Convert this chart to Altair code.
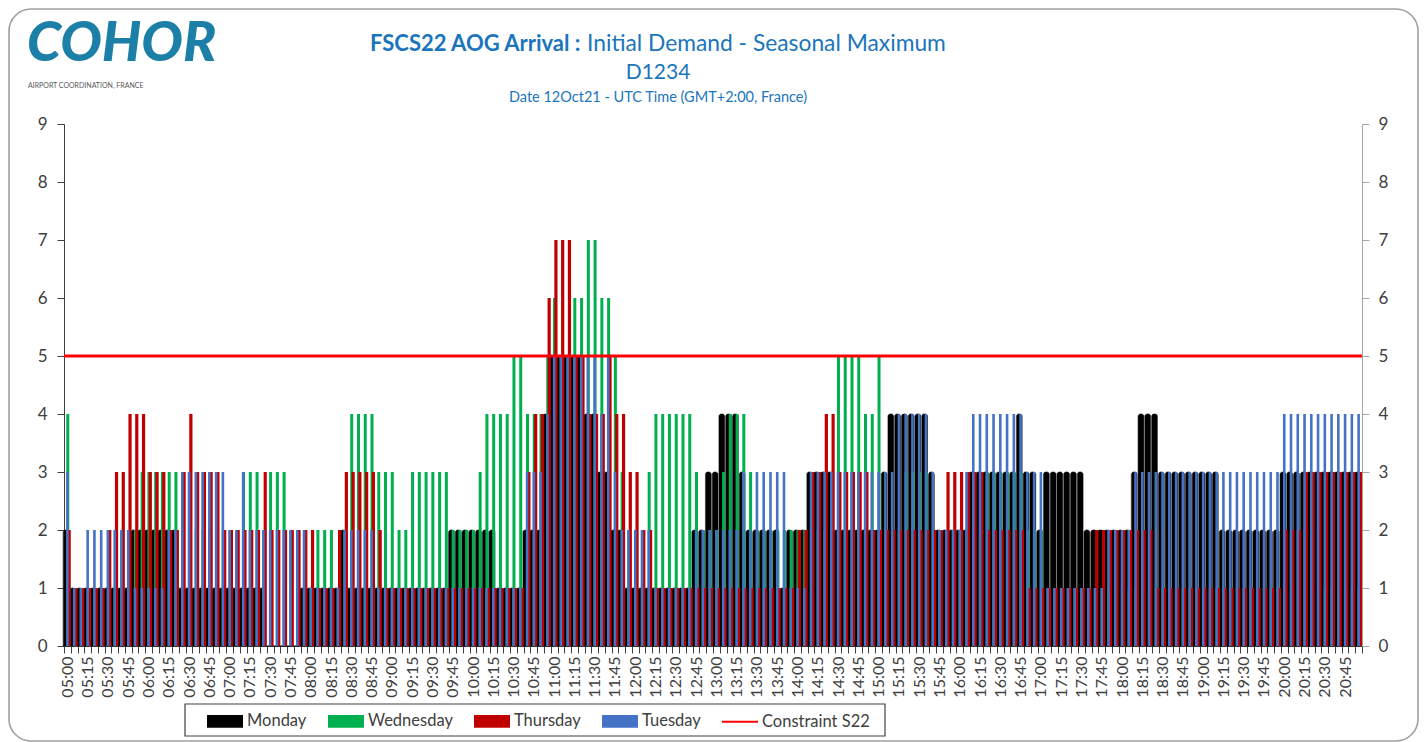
import altair as alt
import pandas as pd

hours = list(range(5, 21))
slots = [f"{h:02d}:{m:02d}" for h in hours for m in range(0, 60, 5)]

monday = [2,1,1,1,1,1,1,1,1,1,2,2, 2,2,2,2,2,1,1,1,1,1,1,1, 1,1,1,1,1,1,0,0,0,0,0,1,
          1,1,1,1,1,2,1,1,1,1,1,1, 1,1,1,1,1,1,1,1,1,2,2,2, 2,2,2,2,1,1,1,1,2,2,2,4,
          5,5,5,5,5,4,4,3,3,2,2,1, 1,1,1,1,1,1,1,1,1,2,2,3, 3,4,4,4,3,2,2,2,2,2,1,2,
          2,2,3,3,3,3,2,2,2,2,2,2, 2,3,4,4,4,4,4,4,3,2,2,2, 2,2,3,3,3,3,3,3,3,4,3,3,
          2,3,3,3,3,3,3,2,2,2,2,2, 2,2,3,4,4,4,3,3,3,3,3,3, 3,3,3,2,2,2,2,2,2,2,2,2,
          3,3,3,3,3,3,3,3,3,3,3,3]
wednesday = [4,1,1,1,1,1,2,1,2,2,2,3, 3,3,3,3,3,3,2,2,2,2,2,2, 2,2,3,3,3,2,3,3,3,2,1,1,
             1,2,2,2,1,2,4,4,4,4,3,3, 3,2,2,3,3,3,3,3,3,2,2,2, 2,3,4,4,4,4,5,5,4,4,4,5,
             6,5,5,6,6,7,7,6,6,5,3,2, 2,2,3,4,4,4,4,4,4,3,2,2, 2,3,4,4,4,3,2,2,2,2,2,2,
             2,2,2,2,2,2,5,5,5,5,4,4, 5,2,2,2,3,3,3,3,2,2,2,2, 2,2,2,2,3,3,3,3,3,3,2,2,
             2,1,1,1,1,1,1,1,1,1,1,1, 1,1,1,1,1,1,1,1,1,1,1,1, 1,1,1,1,1,1,1,1,1,1,1,1,
             2,2,2,2,2,2,1,1,1,1,1,1]
thursday = [2,1,1,1,1,1,2,3,3,4,4,4, 3,3,3,2,2,3,4,3,3,3,3,2, 2,2,2,2,2,3,2,2,2,2,2,2,
            2,1,1,1,2,3,3,3,3,3,2,1, 1,1,1,1,1,1,1,1,1,1,1,1, 1,1,1,1,1,1,1,1,3,4,4,6,
            7,7,7,5,5,4,4,4,5,4,4,3, 3,2,2,1,1,1,1,1,1,1,1,1, 1,1,1,1,1,1,1,1,1,1,1,1,
            2,2,3,3,4,4,3,3,3,3,3,2, 2,2,2,2,2,2,2,2,2,2,3,3, 3,3,3,3,2,2,2,2,2,2,1,1,
            1,1,1,1,1,1,1,1,2,2,2,2, 2,2,2,2,2,1,1,1,1,1,1,1, 1,1,1,1,1,1,1,1,1,1,1,1,
            2,2,2,3,3,3,3,3,3,3,3,3]
tuesday = [3,1,1,2,2,2,2,2,2,2,1,1, 1,1,1,2,2,3,3,3,3,3,3,3, 2,2,3,2,2,2,2,2,2,2,2,2,
           1,1,1,1,1,2,2,2,2,2,1,1, 1,1,1,1,1,1,1,1,1,1,1,1, 1,1,1,1,1,1,1,1,3,3,3,4,
           5,5,5,5,5,5,5,4,5,3,2,2, 2,2,2,1,1,1,1,1,1,2,2,2, 2,2,2,2,3,2,3,3,3,3,3,1,
           1,1,3,3,3,3,3,3,3,3,3,3, 3,3,3,4,4,4,4,4,3,2,2,2, 2,3,4,4,4,4,4,4,4,4,3,3,
           3,1,1,1,1,1,1,1,1,1,2,2, 2,2,3,3,3,3,3,3,3,3,3,3, 3,3,3,3,3,3,3,3,3,3,3,3,
           4,4,4,4,4,4,4,4,4,4,4,4]
constraint = [5]
key_names = ["Monday", "Wednesday", "Thursday", "Tuesday", "Constraint S22"]
key_colors = ["#000000", "#00B050", "#C00000", "#4472C4", "#FF0000"]
WIDE = "M-1.2,-0.42H1.2V0.42H-1.2Z"
THIN = "M-1.2,-0.06H1.2V0.06H-1.2Z"
key_shapes = [WIDE, WIDE, WIDE, WIDE, THIN]

FONT = "Lato"
INK = "#404040"
TITLE = "#1B75BC"

table = pd.DataFrame({"slot": slots, "Monday": monday, "Wednesday": wednesday,
                      "Thursday": thursday, "Tuesday": tuesday})
base = alt.Chart(table)
xscale = alt.Scale(domain=slots, paddingInner=0, paddingOuter=0, round=False)
yscale = alt.Scale(domain=[0, 9], nice=False)

x_axis = alt.Axis(
    title=None, labelAngle=270, labelAlign="right", labelBaseline="middle", labelFont=FONT,
    labelFontSize=16, labelColor=INK, labelOverlap=False, labelPadding=3, tickBand="extent",
    tickSize=7, tickColor=INK, domainColor=INK, grid=False, labelBound=False, labelFlush=False,
    labelExpr="parseInt(substring(datum.value,3,5)) % 15 == 0 ? datum.label : ''")
left_axis = alt.Axis(title=None, values=list(range(10)), format="d", grid=False, labelFont=FONT,
                     labelFontSize=17, labelColor=INK, tickColor=INK, domainColor=INK,
                     tickSize=7, labelPadding=10)
right_axis = alt.Axis(title=None, orient="right", values=list(range(10)), format="d", grid=False,
                      labelFont=FONT, labelFontSize=17, labelColor=INK, tickColor="#A6A6A6",
                      domainColor="#A6A6A6", tickSize=7, labelPadding=9)
X = alt.X("slot:N", scale=xscale, axis=x_axis)


def bars(col, color, width, offset, **kw):
    return base.mark_bar(color=color, size=width, xOffset=offset, **kw).encode(
        x=X, y=alt.Y(f"{col}:Q", scale=yscale, axis=None))


black = base.mark_bar(color="#000000", stroke="#000000", strokeWidth=0.6, size=5.8, xOffset=-1.3,
                      cornerRadiusTopLeft=2.5, cornerRadiusTopRight=2.5).encode(
    x=X, y=alt.Y("Monday:Q", scale=yscale, axis=left_axis))
green = bars("Wednesday", "#00B050", 3, 0.4)
red = bars("Thursday", "#C00000", 3.2, 1.8)
blue = bars("Tuesday", "#4472C4", 2.6, 0)

rule = alt.Chart(pd.DataFrame({"limit": constraint})).mark_rule(color="#FF0000", strokeWidth=3).encode(
    y=alt.Y("limit:Q", scale=yscale, axis=right_axis))


def px(x, y, text, size, color=INK, align="left", weight="normal", style="normal", font=FONT):
    return alt.Chart(pd.DataFrame({"t": [text]})).mark_text(
        align=align, baseline="middle", font=font, fontSize=size, color=color,
        fontWeight=weight, fontStyle=style).encode(
        x=alt.value(x - 64), y=alt.value(y - 124), text="t:N")


def box(x1, y1, x2, y2, stroke, sw, radius=0):
    return alt.Chart(pd.DataFrame({"a": [0]})).mark_rect(
        fillOpacity=0, stroke=stroke, strokeWidth=sw, cornerRadius=radius).encode(
        x=alt.value(x1 - 64), x2=alt.value(x2 - 64), y=alt.value(y1 - 124), y2=alt.value(y2 - 124))


texts = [
    box(9, 9, 1418, 741, "#A0A0A0", 1.6, 22),
    px(27, 44, "COHOR", 55, "#1C7FA8", weight=900, style="italic"),
    px(28, 86, "AIRPORT COORDINATION, FRANCE", 7, "#595959"),
    px(370, 44, "FSCS22 AOG Arrival :", 22, TITLE, weight="bold"),
    px(587, 44, "Initial Demand - Seasonal Maximum", 22.8, TITLE),
    px(658, 73, "D1234", 21, TITLE, align="center"),
    px(658, 98, "Date 12Oct21 - UTC Time (GMT+2:00, France)", 14.5, TITLE, align="center"),
    box(185, 704, 885, 736, "#404040", 1.2),
]

key = alt.Chart(pd.DataFrame({"name": key_names})).mark_point(filled=True, size=0, opacity=1).encode(
    x=alt.value(0), y=alt.value(0),
    color=alt.Color("name:N", scale=alt.Scale(domain=key_names, range=key_colors),
                    legend=alt.Legend(title=None, orient="none", legendX=145, legendY=581,
                                      direction="horizontal", columns=5, symbolSize=900, symbolOpacity=1,
                                      labelFont=FONT, labelFontSize=16.5, labelColor=INK,
                                      labelOffset=6, columnPadding=18, padding=0)),
    shape=alt.Shape("name:N", scale=alt.Scale(domain=key_names, range=key_shapes),
                    legend=alt.Legend(title=None, symbolOpacity=1)))

chart = alt.layer(black, green, red, blue, rule, *texts, key).resolve_scale(y="independent").properties(
    width=1298, height=522,
    padding={"left": 56, "top": 116, "right": 57, "bottom": 96},
    autosize=alt.AutoSizeParams(type="none", contains="content"),
    background="white",
).configure_view(stroke=None)

chart.save("out.html", embed_options={"renderer": "svg", "actions": False})
